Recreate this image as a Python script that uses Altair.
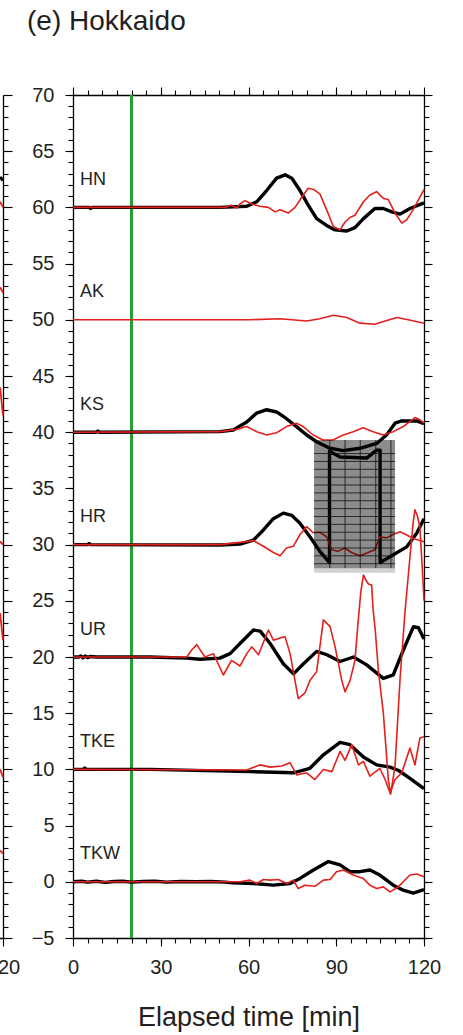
import altair as alt
import pandas as pd

FONT = "Liberation Sans"
INK = "#231f20"
RED = "#e3201b"
GREEN = "#27a035"
X_DOM = [0, 120]
Y_DOM = [-5, 70]

# ---------------- station labels ----------------
stations = ["HN", "AK", "KS", "HR", "UR", "TKE", "TKW"]
station_base = [60, 50, 40, 30, 20, 10, 0]
label_t = 2.4
label_dv = 2.0
event_t = 20

# ---------------- observed (black) ----------------
hn_obs_t = [0, 5.5, 6, 6.5, 50.3, 59.4, 62.8, 66.2, 69.6, 72.5, 74.8, 77.6, 80.4, 83.3, 86.7, 89.6, 93.6, 96.4, 99.3, 103.2, 106.1, 109, 111.8, 115.2, 120]
hn_obs_v = [60, 60, 59.9, 60, 60, 60.1, 60.5, 61.5, 62.6, 62.9, 62.6, 61.5, 60.2, 59.0, 58.4, 58.0, 57.9, 58.2, 59.0, 59.9, 59.9, 59.6, 59.4, 59.9, 60.4]

ks_obs_t = [0, 8, 8.5, 9, 50.3, 54.8, 59.4, 62.8, 66.2, 69.6, 73.0, 76.4, 79.9, 83.3, 87.8, 92.4, 98.1, 103.8, 107.2, 110.1, 112.4, 117.5, 120]
ks_obs_v = [40, 40, 40.1, 40, 40.05, 40.2, 40.9, 41.7, 42.0, 41.8, 41.2, 40.5, 39.75, 39.15, 38.57, 38.36, 38.57, 39.0, 39.75, 40.8, 41.0, 41.0, 40.75]

hr_obs_t = [0, 5, 5.5, 6, 50.3, 57.1, 61.7, 65.1, 68.5, 71.9, 74.8, 77.6, 81.0, 84.4, 87.7, 87.7, 91.3, 100.4, 103.8, 105.0, 105.0, 109.5, 114.1, 117.5, 120]
hr_obs_v = [30, 30, 30.1, 30, 29.96, 30.05, 30.4, 31.3, 32.3, 32.8, 32.6, 31.9, 30.7, 29.4, 28.4, 38.3, 37.8, 37.7, 38.4, 38.4, 28.4, 29.1, 29.8, 31.0, 32.3]

ur_obs_t = [0, 2, 2.7, 3.4, 4.2, 5, 6, 8, 26.3, 38.9, 43.4, 50.2, 53.7, 57.1, 61.7, 64.0, 67.4, 71.9, 75.4, 78.8, 83.3, 86.8, 91.3, 95.9, 100.4, 106.1, 109.5, 112.9, 116.4, 118.1, 120]
ur_obs_v = [20, 20, 20.1, 19.92, 20.08, 19.95, 20.05, 20, 20.0, 19.9, 19.8, 19.9, 20.3, 21.2, 22.4, 22.3, 21.2, 19.4, 18.5, 19.4, 20.5, 20.2, 19.6, 20.0, 19.3, 18.1, 18.4, 20.6, 22.7, 22.6, 21.6]

tke_obs_t = [0, 3.5, 4, 4.5, 26.3, 60.5, 75.4, 81.0, 85.6, 91.3, 94.7, 99.3, 103.8, 108.4, 111.3, 115.2, 120]
tke_obs_v = [10, 10, 10.12, 10, 10.0, 9.8, 9.7, 10.1, 11.3, 12.4, 12.2, 11.1, 10.4, 10.2, 9.9, 9.2, 8.3]

tkw_obs_t = [0, 3, 5, 8, 11, 14, 17, 20, 24, 28, 32, 37, 42, 47, 52, 54.7, 61.6, 68.5, 74.2, 77.6, 82.2, 87.3, 91.3, 94.7, 98.1, 101.5, 104.9, 109.5, 112.9, 116.3, 120]
tkw_obs_v = [0, 0.05, -0.03, 0.05, -0.05, 0.03, 0.05, -0.03, 0.03, 0.05, -0.03, 0.03, 0.0, 0.03, -0.03, -0.1, -0.15, -0.3, -0.15, 0.3, 1.05, 1.8, 1.5, 0.9, 0.9, 1.05, 0.6, -0.3, -0.75, -1.0, -0.7]

# ---------------- simulated (red) ----------------
hn_sim_t = [0, 52, 54, 56, 57.1, 58.8, 61.1, 63.9, 66.8, 69.1, 70.8, 73.6, 75.9, 78.2, 80.4, 82.2, 84.4, 86.7, 89.0, 91.3, 93.0, 94.7, 96.4, 99.3, 101.5, 103.8, 106.1, 107.8, 110.1, 112.4, 114.1, 116.3, 119.8, 120]
hn_sim_v = [60, 60, 60.2, 59.95, 60.3, 60.6, 60.3, 60.1, 60.0, 59.6, 59.8, 59.5, 60.0, 60.9, 61.7, 61.6, 61.2, 59.8, 58.3, 58.0, 58.7, 59.1, 59.3, 60.5, 61.1, 61.4, 60.8, 60.7, 59.5, 58.6, 58.9, 59.8, 61.5, 61.6]

ak_sim_t = [0, 60, 70.8, 79.9, 84.4, 89.0, 93.6, 98.1, 103.2, 106.7, 110.7, 114.6, 120]
ak_sim_v = [50, 50, 50.1, 49.9, 50.1, 50.4, 50.2, 49.7, 49.6, 49.9, 50.2, 50.0, 49.7]

ks_sim_t = [0, 50.3, 56, 59.4, 62.8, 66.2, 69.6, 73.0, 76.4, 78.7, 82.1, 85.5, 88.9, 92.4, 95.8, 99.2, 102.6, 106.0, 109.5, 112.9, 116.9, 118.6, 120]
ks_sim_v = [40, 40.05, 40.25, 40.5, 40.05, 39.75, 39.95, 40.5, 40.8, 40.5, 39.75, 39.3, 39.3, 39.75, 40.05, 40.4, 40.05, 39.75, 40.05, 40.5, 41.3, 41.1, 40.8]

hr_sim_t = [0, 50.3, 57.1, 61.7, 65.1, 68.5, 70.8, 73.0, 75.3, 77.6, 79.9, 82.1, 84.4, 86.7, 88.4, 90.6, 92.9, 95.2, 98.1, 100.9, 103.2, 104.9, 107.2, 109.5, 111.8, 114.1, 116.3, 120]
hr_sim_v = [30, 30, 30.2, 30.35, 29.85, 29.3, 29.0, 29.7, 29.85, 30.9, 31.6, 31.05, 31.1, 30.7, 29.55, 29.4, 29.7, 29.3, 29.0, 29.3, 29.55, 30.7, 30.6, 30.9, 31.15, 30.85, 30.55, 30.25]

ur_sim_t = [0, 38.9, 40.5, 42.3, 45.1, 48.0, 51.4, 54.2, 57.1, 59.4, 61.1, 63.4, 66.8, 68.5, 70.8, 72.5, 74.2, 75.9, 77.0, 79.3, 81.0, 83.3, 85.6, 87.9, 89.6, 91.9, 93.0, 94.7, 96.4, 97.6, 98.4, 99.3, 100.2, 101.0, 102.1, 102.6, 103.3, 104.4, 106.1, 107.8, 108.6, 110.1, 111.8, 113.5, 115.2, 116.3, 116.9, 117.8, 118.6, 119.4, 120]
ur_sim_v = [20, 20.0, 20.6, 21.1, 20.0, 20.3, 18.4, 19.7, 19.2, 20.3, 20.9, 20.2, 22.4, 21.5, 21.7, 21.8, 20.3, 17.9, 16.3, 16.8, 17.9, 18.7, 23.3, 22.7, 20.9, 17.9, 16.9, 17.9, 19.7, 23.5, 25.8, 27.3, 26.8, 26.5, 26.4, 24.2, 22.5, 18.8, 15.0, 9.1, 7.8, 10.3, 18.0, 24.0, 28.9, 32.0, 33.1, 32.5, 31.5, 28.0, 25.0]

tke_sim_t = [0, 59.4, 63.9, 67.4, 71.4, 74.2, 76.5, 79.9, 82.7, 85.6, 88.5, 91.3, 93.0, 95.3, 97.6, 99.3, 101.5, 104.9, 106.7, 108.4, 110.1, 112.4, 115.2, 116.9, 118.6, 120]
tke_sim_v = [10, 9.95, 10.4, 10.2, 10.3, 10.6, 9.5, 9.7, 9.1, 10.0, 9.8, 11.6, 10.8, 12.2, 10.4, 10.7, 9.4, 10.1, 9.1, 7.9, 9.1, 9.7, 11.9, 10.4, 12.8, 12.9]

tkw_sim_t = [0, 57.1, 60.5, 62.8, 65.1, 67.4, 70.2, 73.1, 75.3, 77.0, 79.3, 82.7, 85.6, 87.9, 90.1, 92.4, 95.8, 99.2, 101.5, 103.8, 106.1, 108.4, 111.2, 112.9, 115.2, 117.5, 120]
tkw_sim_v = [0, 0, 0.15, -0.15, 0.2, 0.15, 0.2, -0.15, 0.15, -0.6, -0.3, -0.4, 0.15, 0.2, 0.9, 1.05, 0.6, 0.3, -0.3, -0.6, -0.45, -0.9, -0.45, 0.0, 0.6, 0.7, 0.45]

# ---------------- HR inset (gray box with grid) ----------------
box_t = [82.4, 110.1]
box_v = [27.9, 39.3]
band_v = [27.5, 27.9]
grid_vt = [87.8, 93.0, 98.2, 103.5, 108.7]
grid_hv = [38.1, 37.4, 36.7, 36.0, 35.3, 34.6, 33.9, 33.2, 32.5, 31.8, 31.1, 30.4, 29.7, 29.0, 28.3]

# ---------------- previous panel (d) edge, partially visible ----------------
prev_red_t = [119, 120]
prev_red_v = [[60.5, 60.0], [52.9, 52.4], [44.0, 41.5], [30.3, 30.0], [23.9, 21.5], [10.0, 9.3], [2.8, 2.5]]
prev_black_v = [[62.7, 62.4]]


def sdf(name, ts, vs):
    return pd.DataFrame({"series": name, "t": ts, "v": vs, "i": list(range(len(ts)))})


black_df = pd.concat([
    sdf("HN", hn_obs_t, hn_obs_v), sdf("KS", ks_obs_t, ks_obs_v), sdf("HR", hr_obs_t, hr_obs_v),
    sdf("UR", ur_obs_t, ur_obs_v), sdf("TKE", tke_obs_t, tke_obs_v), sdf("TKW", tkw_obs_t, tkw_obs_v),
])
red_df = pd.concat([
    sdf("HN", hn_sim_t, hn_sim_v), sdf("AK", ak_sim_t, ak_sim_v), sdf("KS", ks_sim_t, ks_sim_v),
    sdf("HR", hr_sim_t, hr_sim_v), sdf("UR", ur_sim_t, ur_sim_v), sdf("TKE", tke_sim_t, tke_sim_v),
    sdf("TKW", tkw_sim_t, tkw_sim_v),
])
prev_red_df = pd.concat([sdf(f"r{k}", prev_red_t, pv) for k, pv in enumerate(prev_red_v)])
prev_black_df = pd.concat([sdf(f"b{k}", prev_red_t, pv) for k, pv in enumerate(prev_black_v)])
label_df = pd.DataFrame({"name": stations, "t": label_t, "v": [b + label_dv for b in station_base]})
box_df = pd.DataFrame({"t": [box_t[0]], "t1": [box_t[1]], "v": [box_v[0]], "v1": [box_v[1]]})
band_df = pd.DataFrame({"t": [box_t[0]], "t1": [box_t[1]], "v": [band_v[0]], "v1": [band_v[1]]})
gv_df = pd.DataFrame({"t": grid_vt, "v": box_v[0], "v1": box_v[1]})
gh_df = pd.DataFrame({"t": box_t[0], "t1": box_t[1], "v": grid_hv})
event_df = pd.DataFrame({"t": [event_t]})
dummy = pd.DataFrame({"t": [0], "v": [0]})

PANEL_W = 351
PREV_RANGE = [-421, -70]


def X(field="t", axis=None, rng=None):
    if rng is None:
        sc = alt.Scale(domain=X_DOM, nice=False, zero=False)
    else:
        sc = alt.Scale(domain=X_DOM, nice=False, zero=False, range=rng)
    return alt.X(f"{field}:Q", scale=sc, axis=axis)


def Y(field="v", axis=None):
    return alt.Y(f"{field}:Q", scale=alt.Scale(domain=Y_DOM, nice=False, zero=False), axis=axis)


common = dict(grid=False, domainColor="black", tickColor="black", domainWidth=1.3, tickWidth=1.1,
              labelFont=FONT, labelColor=INK, labelFontSize=20)

ax_b_major = alt.Axis(orient="bottom", values=[0, 30, 60, 90, 120], tickSize=8, labelPadding=11,
                      labelFlush=False, labelOverlap=False, title="Elapsed time [min]", titleFont=FONT,
                      titleFontSize=27, titleFontWeight="normal", titleColor=INK, titleBaseline="alphabetic",
                      titleY=87, **common)
ax_l_major = alt.Axis(orient="left", values=list(range(-5, 71, 5)), tickSize=8, labelPadding=11,
                      labelOverlap=False, title=None, **common)
ax_b_minor = alt.Axis(orient="bottom", values=list(range(0, 121, 5)), tickSize=5, labels=False, domain=False,
                      title=None, **common)
ax_l_minor = alt.Axis(orient="left", values=list(range(-5, 71)), tickSize=5, labels=False, domain=False,
                      title=None, **common)
ax_t_major = alt.Axis(orient="top", values=[0, 30, 60, 90, 120], tickSize=8, labels=False, title=None, **common)
ax_r_major = alt.Axis(orient="right", values=list(range(-5, 71, 5)), tickSize=8, labels=False, title=None, **common)
ax_t_minor = alt.Axis(orient="top", values=list(range(0, 121, 5)), tickSize=5, labels=False, domain=False,
                      title=None, **common)
ax_r_minor = alt.Axis(orient="right", values=list(range(-5, 71)), tickSize=5, labels=False, domain=False,
                      title=None, **common)
ax_prev_b = alt.Axis(orient="bottom", values=[120], tickSize=8, labelPadding=11, labelFlush=False,
                     title=None, **common)
ax_prev_r = alt.Axis(orient="right", offset=-(PANEL_W + 70), values=list(range(-5, 71, 5)), tickSize=9,
                     labels=False, title=None, **common)
ax_prev_r_minor = alt.Axis(orient="right", offset=-(PANEL_W + 70), values=list(range(-5, 71)), tickSize=5,
                           labels=False, domain=False, title=None, **common)

event_line = alt.Chart(event_df).mark_rule(color=GREEN, strokeWidth=3).encode(x=X())

black_lines = alt.Chart(black_df).mark_line(color="black", strokeWidth=3.4, strokeJoin="round").encode(
    x=X(axis=ax_b_major), y=Y(axis=ax_l_major), detail="series:N", order="i:Q")

red_lines = alt.Chart(red_df).mark_line(color=RED, strokeWidth=1.6, strokeJoin="round").encode(
    x=X(), y=Y(), detail="series:N", order="i:Q")

box = alt.Chart(box_df).mark_rect(color="black", opacity=0.45).encode(
    x=X(), x2="t1:Q", y=Y(), y2="v1:Q")
band = alt.Chart(band_df).mark_rect(color="black", opacity=0.18).encode(
    x=X(), x2="t1:Q", y=Y(), y2="v1:Q")
grid_v = alt.Chart(gv_df).mark_rule(color="#111111", strokeWidth=0.8).encode(x=X(), y=Y(), y2="v1:Q")
grid_h = alt.Chart(gh_df).mark_rule(color="#111111", strokeWidth=0.8).encode(x=X(), x2="t1:Q", y=Y())

labels = alt.Chart(label_df).mark_text(align="left", baseline="alphabetic", font=FONT, fontSize=18,
                                       color=INK).encode(x=X(), y=Y(), text="name:N")

minor_bl = alt.Chart(dummy).mark_point(opacity=0).encode(x=X(axis=ax_b_minor), y=Y(axis=ax_l_minor))
major_tr = alt.Chart(dummy).mark_point(opacity=0).encode(x=X(axis=ax_t_major), y=Y(axis=ax_r_major))
minor_tr = alt.Chart(dummy).mark_point(opacity=0).encode(x=X(axis=ax_t_minor), y=Y(axis=ax_r_minor))

prev_red = alt.Chart(prev_red_df).mark_line(color=RED, strokeWidth=1.8).encode(
    x=X(axis=ax_prev_b, rng=PREV_RANGE), y=Y(axis=ax_prev_r), detail="series:N", order="i:Q")
prev_black = alt.Chart(prev_black_df).mark_line(color="black", strokeWidth=3).encode(
    x=X(rng=PREV_RANGE), y=Y(axis=ax_prev_r_minor), detail="series:N", order="i:Q")

chart = alt.layer(
    event_line, black_lines, red_lines, box, band, grid_v, grid_h, labels,
    minor_bl, major_tr, minor_tr, prev_red, prev_black,
).resolve_scale(x="independent", y="independent").properties(
    width=PANEL_W, height=843,
    autosize=alt.AutoSizeParams(type="none"),
    padding={"left": 73, "top": 95, "right": 39, "bottom": 97},
    title=alt.TitleParams("(e) Hokkaido", anchor="start", frame="group", dx=-46, offset=27,
                          baseline="alphabetic", font=FONT, fontSize=28, fontWeight="normal", color=INK),
).configure_view(stroke=None).configure(background="white")

chart.save("out.html", embed_options={"renderer": "svg", "actions": False})
